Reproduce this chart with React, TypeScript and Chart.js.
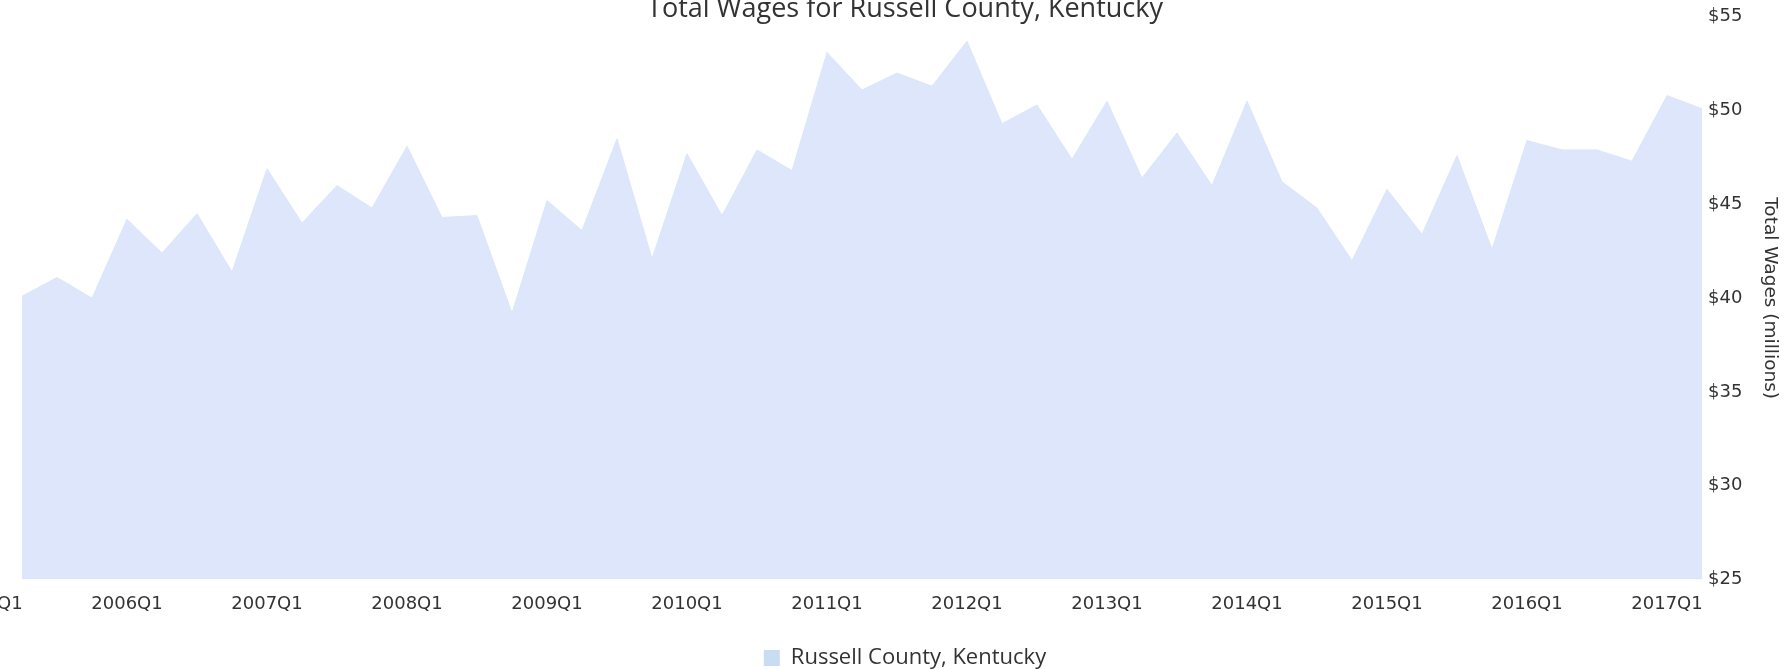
import React, { useEffect, useRef } from "react";
import { Chart, registerables } from "chart.js";

Chart.register(...registerables);

const quarters = [
  "2005Q1", "2005Q2", "2005Q3", "2005Q4",
  "2006Q1", "2006Q2", "2006Q3", "2006Q4",
  "2007Q1", "2007Q2", "2007Q3", "2007Q4",
  "2008Q1", "2008Q2", "2008Q3", "2008Q4",
  "2009Q1", "2009Q2", "2009Q3", "2009Q4",
  "2010Q1", "2010Q2", "2010Q3", "2010Q4",
  "2011Q1", "2011Q2", "2011Q3", "2011Q4",
  "2012Q1", "2012Q2", "2012Q3", "2012Q4",
  "2013Q1", "2013Q2", "2013Q3", "2013Q4",
  "2014Q1", "2014Q2", "2014Q3", "2014Q4",
  "2015Q1", "2015Q2", "2015Q3", "2015Q4",
  "2016Q1", "2016Q2", "2016Q3", "2016Q4",
  "2017Q1", "2017Q2",
];

// Total wages, millions of dollars (2005Q1 not visible in the picture)
const wages: (number | null)[] = [
  null, 40.1, 41.1, 40.0,
  44.2, 42.4, 44.5, 41.4,
  46.9, 44.0, 46.0, 44.8,
  48.1, 44.3, 44.4, 39.2,
  45.2, 43.6, 48.5, 42.1,
  47.7, 44.4, 47.9, 46.8,
  53.1, 51.1, 52.0, 51.3,
  53.7, 49.3, 50.3, 47.4,
  50.5, 46.4, 48.8, 46.0,
  50.5, 46.2, 44.8, 42.0,
  45.8, 43.4, 47.6, 42.6,
  48.4, 47.9, 47.9, 47.3,
  50.8, 50.1,
];

const yTickValues = [25, 30, 35, 40, 45, 50, 55];

const seriesName = "Russell County, Kentucky";
const chartTitle = "Total Wages for Russell County, Kentucky";
const yAxisTitle = "Total Wages (millions)";

const AREA = "#dde6fa";
const SWATCH = "#c9dcf4";
const TEXT = "#333333";
const TICK_FONT = "'DejaVu Sans'";

export default function App() {
  const ref = useRef<HTMLCanvasElement>(null);

  useEffect(() => {
    const chart = new Chart(ref.current as HTMLCanvasElement, {
      type: "line",
      data: {
        labels: quarters,
        datasets: [
          {
            label: seriesName,
            data: wages,
            fill: "start",
            backgroundColor: AREA,
            borderColor: AREA,
            borderWidth: 1,
            pointRadius: 0,
            pointHoverRadius: 0,
            tension: 0,
            spanGaps: false,
          },
        ],
      },
      options: {
        animation: false,
        responsive: true,
        maintainAspectRatio: false,
        layout: { padding: { left: 60, right: 0, top: 0, bottom: 0 } },
        plugins: {
          title: {
            display: true,
            text: chartTitle,
            color: TEXT,
            font: { family: "'Open Sans'", size: 27, weight: "normal", lineHeight: 0.58 },
            padding: 0,
          },
          legend: {
            display: true,
            position: "bottom",
            labels: {
              color: TEXT,
              font: { family: "'Open Sans'", size: 22 },
              boxWidth: 16,
              boxHeight: 16,
              padding: 18,
              generateLabels: (c: any) =>
                Chart.defaults.plugins.legend.labels
                  .generateLabels(c)
                  .map((l: any) => ({ ...l, fillStyle: SWATCH, strokeStyle: SWATCH, lineWidth: 0 })),
            },
          },
          tooltip: { enabled: false },
        },
        scales: {
          x: {
            type: "category",
            grid: { display: false, drawTicks: false },
            border: { display: false },
            ticks: {
              autoSkip: false,
              maxRotation: 0,
              minRotation: 0,
              padding: 14,
              color: TEXT,
              font: { family: TICK_FONT, size: 18 },
              callback: (_v: any, i: number) => (quarters[i].endsWith("Q1") ? quarters[i] : ""),
            },
          },
          y: {
            position: "right",
            min: yTickValues[0],
            max: yTickValues[yTickValues.length - 1],
            grid: { display: false, drawTicks: false },
            border: { display: false },
            afterBuildTicks: (s: any) => {
              s.ticks = yTickValues.map((v) => ({ value: v }));
            },
            afterFit: (s: any) => {
              s.width = 121;
            },
            ticks: {
              padding: 6,
              color: TEXT,
              font: { family: TICK_FONT, size: 18 },
              callback: (v: any) => "$" + v,
            },
            title: {
              display: true,
              text: yAxisTitle,
              color: TEXT,
              font: { family: TICK_FONT, size: 18.5 },
              padding: { top: 42, bottom: 20 },
            },
          },
        },
      },
    });
    return () => chart.destroy();
  }, []);

  return (
    <div
      style={{
        position: "fixed",
        left: 0,
        top: 0,
        width: 1790,
        height: 669,
        overflow: "hidden",
        background: "#ffffff",
      }}
    >
      <div style={{ position: "absolute", left: -73, top: 0, width: 1896, height: 679 }}>
        <canvas ref={ref} />
      </div>
    </div>
  );
}
